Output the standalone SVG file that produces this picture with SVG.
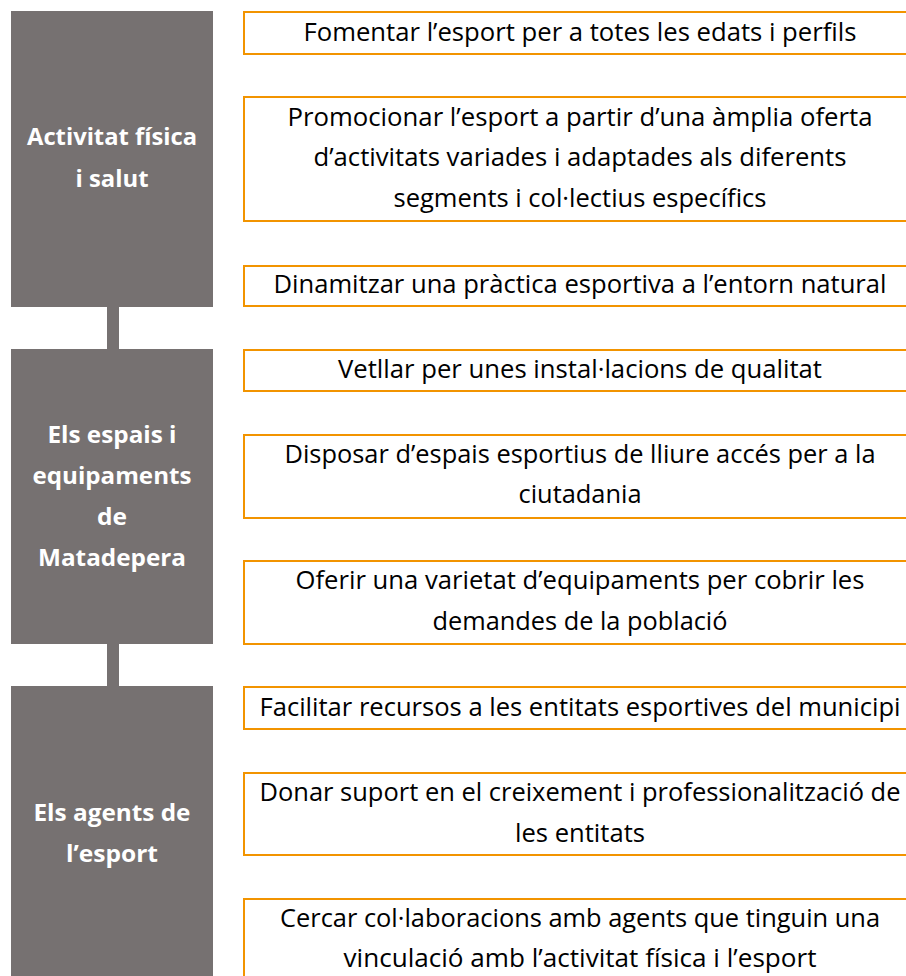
<svg xmlns="http://www.w3.org/2000/svg" width="906" height="976" viewBox="0 0 906 976">
<style>
.cat{fill:#767171}
.item{fill:#ffffff;stroke:#F29400;stroke-width:2}
.ct{font-family:"Open Sans",Lato,"Liberation Sans",sans-serif;font-weight:bold;font-size:24px;fill:#ffffff;text-anchor:middle;font-variant-ligatures:none}
.it{font-family:"Open Sans",Lato,"Liberation Sans",sans-serif;font-size:25px;fill:#000000;text-anchor:middle;font-variant-ligatures:none}
</style>
<rect width="906" height="976" fill="#ffffff"/>
<g id="connectors">
<rect class="cat" x="107" y="306" width="12" height="44"/>
<rect class="cat" x="107" y="643" width="12" height="44"/>
</g>
<g id="cat1">
<rect class="cat" x="11" y="11" width="202" height="296"/>
<text class="ct" x="112" y="145" textLength="170" lengthAdjust="spacingAndGlyphs">Activitat física</text>
<text class="ct" x="112" y="187" textLength="73" lengthAdjust="spacingAndGlyphs">i salut</text>
</g>
<g id="cat2">
<rect class="cat" x="11" y="349" width="202" height="295"/>
<text class="ct" x="112" y="443" textLength="129" lengthAdjust="spacingAndGlyphs">Els espais i</text>
<text class="ct" x="112" y="484" textLength="159" lengthAdjust="spacingAndGlyphs">equipaments</text>
<text class="ct" x="112" y="525" textLength="30" lengthAdjust="spacingAndGlyphs">de</text>
<text class="ct" x="112" y="566" textLength="148" lengthAdjust="spacingAndGlyphs">Matadepera</text>
</g>
<g id="cat3">
<rect class="cat" x="11" y="686" width="202" height="300"/>
<text class="ct" x="112" y="821" textLength="157" lengthAdjust="spacingAndGlyphs">Els agents de</text>
<text class="ct" x="112" y="862" textLength="92" lengthAdjust="spacingAndGlyphs">l’esport</text>
</g>
<g id="item1">
<rect class="item" x="244" y="12" width="680" height="42"/>
<text class="it" x="580" y="41" textLength="553" lengthAdjust="spacingAndGlyphs">Fomentar l’esport per a totes les edats i perfils</text>
</g>
<g id="item2">
<rect class="item" x="244" y="97" width="680" height="124"/>
<text class="it" x="580" y="126" textLength="585" lengthAdjust="spacingAndGlyphs">Promocionar l’esport a partir d’una àmplia oferta</text>
<text class="it" x="580" y="166" textLength="533" lengthAdjust="spacingAndGlyphs">d’activitats variades i adaptades als diferents</text>
<text class="it" x="580" y="207" textLength="373" lengthAdjust="spacingAndGlyphs">segments i col·lectius específics</text>
</g>
<g id="item3">
<rect class="item" x="244" y="266" width="680" height="40"/>
<text class="it" x="580" y="293" textLength="613" lengthAdjust="spacingAndGlyphs">Dinamitzar una pràctica esportiva a l’entorn natural</text>
</g>
<g id="item4">
<rect class="item" x="244" y="350" width="680" height="41"/>
<text class="it" x="580" y="378" textLength="484" lengthAdjust="spacingAndGlyphs">Vetllar per unes instal·lacions de qualitat</text>
</g>
<g id="item5">
<rect class="item" x="244" y="435" width="680" height="83"/>
<text class="it" x="580" y="463" textLength="591" lengthAdjust="spacingAndGlyphs">Disposar d’espais esportius de lliure accés per a la</text>
<text class="it" x="580" y="503" textLength="123" lengthAdjust="spacingAndGlyphs">ciutadania</text>
</g>
<g id="item6">
<rect class="item" x="244" y="561" width="680" height="83"/>
<text class="it" x="580" y="589" textLength="569" lengthAdjust="spacingAndGlyphs">Oferir una varietat d’equipaments per cobrir les</text>
<text class="it" x="580" y="630" textLength="295" lengthAdjust="spacingAndGlyphs">demandes de la població</text>
</g>
<g id="item7">
<rect class="item" x="244" y="687" width="680" height="42"/>
<text class="it" x="580" y="716" textLength="641" lengthAdjust="spacingAndGlyphs">Facilitar recursos a les entitats esportives del municipi</text>
</g>
<g id="item8">
<rect class="item" x="244" y="773" width="680" height="82"/>
<text class="it" x="580" y="801" textLength="641" lengthAdjust="spacingAndGlyphs">Donar suport en el creixement i professionalització de</text>
<text class="it" x="580" y="842" textLength="130" lengthAdjust="spacingAndGlyphs">les entitats</text>
</g>
<g id="item9">
<rect class="item" x="244" y="899" width="680" height="100"/>
<text class="it" x="580" y="927" textLength="600" lengthAdjust="spacingAndGlyphs">Cercar col·laboracions amb agents que tinguin una</text>
<text class="it" x="580" y="967" textLength="473" lengthAdjust="spacingAndGlyphs">vinculació amb l’activitat física i l’esport</text>
</g>
</svg>
